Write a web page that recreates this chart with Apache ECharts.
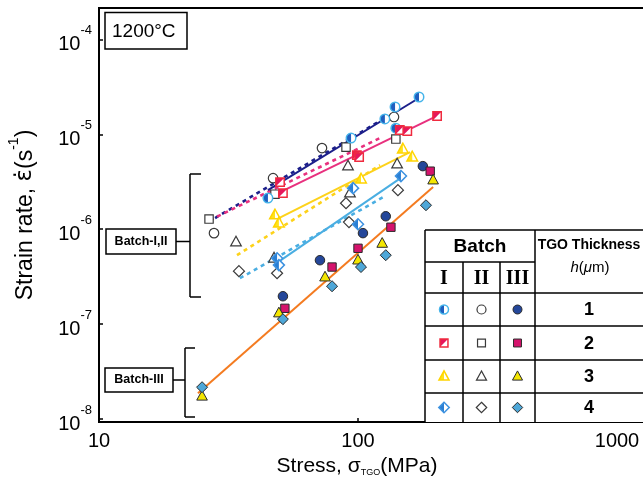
<!DOCTYPE html>
<html>
<head>
<meta charset="utf-8">
<script src="https://cdn.jsdelivr.net/npm/echarts@6/dist/echarts.min.js"></script>
<style>
  html, body { margin: 0; padding: 0; background: #fff; }
  #chart { width: 643px; height: 477px; }
</style>
</head>
<body>
<div id="chart"></div>
<script>
// Creep data at 1200 °C: [TGO stress (MPa), strain rate (1/s)]
// Batch I (half-filled symbols)
const batch1Circle   = [[44.9, 2.13e-6], [94.0, 9.12e-6], [127, 1.45e-5], [139, 1.94e-5], [140, 1.16e-5], [172, 2.47e-5]];
const batch1Square   = [[50.0, 3.13e-6], [51.3, 2.40e-6], [99, 6.04e-6], [101, 5.75e-6], [145, 1.11e-5], [155, 1.08e-5], [202, 1.56e-5]];
const batch1Triangle = [[47.8, 1.41e-6], [49.5, 1.16e-6], [102.7, 3.37e-6], [149, 6.98e-6], [162, 5.75e-6]];
const batch1Diamond  = [[48.7, 4.95e-7], [49.5, 4.19e-7], [95.7, 2.71e-6], [100, 1.13e-6], [146.5, 3.63e-6]];
// Batch II (open symbols)
const batch2Circle   = [[27.8, 9.1e-7], [47.0, 3.45e-6], [72.6, 7.16e-6], [137.7, 1.52e-5]];
const batch2Square   = [[26.6, 1.28e-6], [47.8, 2.34e-6], [89.9, 7.33e-6], [140, 8.9e-6]];
const batch2Triangle = [[33.8, 7.31e-7], [47.4, 4.95e-7], [91.5, 4.62e-6], [93.1, 2.40e-6], [141.6, 4.85e-6]];
const batch2Diamond  = [[34.7, 3.62e-7], [48.7, 3.44e-7], [89.9, 1.88e-6], [92.3, 1.19e-6], [142.6, 2.58e-6]];
// Batch III (solid symbols)
const batch3Circle   = [[51.3, 1.97e-7], [71.3, 4.72e-7], [104.5, 9.1e-7], [128, 1.37e-6], [178, 4.62e-6]];
const batch3Square   = [[52.2, 1.47e-7], [79.4, 4.0e-7], [100, 6.3e-7], [134, 1.05e-6], [190, 4.09e-6]];
const batch3Triangle = [[25, 1.74e-8], [49.5, 1.31e-7], [74.6, 3.13e-7], [100, 4.72e-7], [124, 7.08e-7], [195, 3.29e-6]];
const batch3Diamond  = [[25, 2.17e-8], [51.3, 1.13e-7], [79.4, 2.51e-7], [102.7, 4.0e-7], [128, 5.33e-7], [183, 1.79e-6]];

// Power-law fit lines (end points), solid = batch I, dotted = batch II
const fitH1Solid  = [[44.9, 2.58e-6], [172, 2.41e-5]];
const fitH1Dotted = [[26.4, 1.19e-6], [127, 1.48e-5]];
const fitH2Solid  = [[45.7, 2.18e-6], [202, 1.56e-5]];
const fitH2Dotted = [[26.8, 1.25e-6], [121.6, 9.12e-6]];
const fitH3Solid  = [[49.5, 1.31e-6], [158.8, 6.49e-6]];
const fitH3Dotted = [[34.1, 5.33e-7], [121.6, 4.73e-6]];
const fitH4Solid  = [[49.1, 4.50e-7], [147.9, 3.54e-6]];
const fitH4Dotted = [[35.0, 3.05e-7], [127, 2.23e-6]];
const fitBatch3   = [[24.1, 1.87e-8], [195, 2.78e-6]];

// Axis tick labels
const xTickLabels = ['10', '100', '1000'];
const yTickExponents = [-8, -7, -6, -5, -4];
// Table labels
const batchNames = ['I', 'II', 'III'];
const thicknessLabels = ['1', '2', '3', '4'];

const FONT = 'Arial, "Liberation Sans", sans-serif';
const SERIF = '"Times New Roman", "Liberation Serif", serif';

const lineColors = { h1: '#1c1f8a', h2: '#e8307e', h3: '#fdd21a', h4: '#4aaee2', b3: '#f47b20' };

const symbolStyle = {
  1: {
    circle:   { fill: '#1f5fbf', stroke: '#45b4ea' },
    square:   { fill: '#e6175c', stroke: '#ef2a3e' },
    triangle: { fill: '#ffe31a', stroke: '#ffd400' },
    diamond:  { fill: '#2a7fd4', stroke: '#3d92e0' }
  },
  3: {
    circle:   { fill: '#24479a' },
    square:   { fill: '#d5136c' },
    triangle: { fill: '#f4e600' },
    diamond:  { fill: '#4ea7d8' }
  }
};

function outlineShape(kind, cx, cy, s) {
  if (kind === 'circle') return { type: 'circle', shape: { cx: cx, cy: cy, r: s / 2 } };
  if (kind === 'square') {
    const a = s * 0.88;
    return { type: 'rect', shape: { x: cx - a / 2, y: cy - a / 2, width: a, height: a } };
  }
  if (kind === 'triangle') {
    return { type: 'polygon', shape: { points: [[cx, cy - 0.62 * s], [cx - 0.56 * s, cy + 0.4 * s], [cx + 0.56 * s, cy + 0.4 * s]] } };
  }
  const d = s * 0.58;
  return { type: 'polygon', shape: { points: [[cx, cy - d], [cx + d, cy], [cx, cy + d], [cx - d, cy]] } };
}

function halfShape(kind, cx, cy, s) {
  if (kind === 'circle') {
    return { type: 'sector', shape: { cx: cx, cy: cy, r0: 0, r: s / 2, startAngle: Math.PI / 2, endAngle: Math.PI * 1.5 } };
  }
  if (kind === 'square') {
    const a = s * 0.88;
    return { type: 'polygon', shape: { points: [[cx - a / 2, cy - a / 2], [cx + a / 2, cy - a / 2], [cx - a / 2, cy + a / 2]] } };
  }
  if (kind === 'triangle') {
    return { type: 'polygon', shape: { points: [[cx, cy - 0.62 * s], [cx - 0.56 * s, cy + 0.4 * s], [cx, cy + 0.4 * s]] } };
  }
  const d = s * 0.58;
  return { type: 'polygon', shape: { points: [[cx, cy - d], [cx - d, cy], [cx, cy + d]] } };
}

// Marker glyph for a given shape and batch, centred at (cx, cy)
function glyph(kind, batch, cx, cy, s) {
  const els = [];
  if (batch === 1) {
    const st = symbolStyle[1][kind];
    const bg = outlineShape(kind, cx, cy, s);
    bg.style = { fill: '#fff' };
    const half = halfShape(kind, cx, cy, s);
    half.style = { fill: st.fill };
    const rim = outlineShape(kind, cx, cy, s);
    rim.style = { fill: 'none', stroke: st.stroke, lineWidth: 1.5 };
    els.push(bg, half, rim);
  } else if (batch === 2) {
    const o = outlineShape(kind, cx, cy, s);
    o.style = { fill: '#fff', stroke: '#3a3a3a', lineWidth: 1.2 };
    els.push(o);
  } else {
    const o = outlineShape(kind, cx, cy, s);
    o.style = { fill: symbolStyle[3][kind].fill, stroke: '#2a2a2a', lineWidth: 1 };
    els.push(o);
  }
  return els;
}

const SYM = 9.5;

function markerSeries(data, kind, batch) {
  return {
    type: 'custom',
    z: 5,
    data: data,
    renderItem: function (params, api) {
      const p = api.coord([api.value(0), api.value(1)]);
      return { type: 'group', children: glyph(kind, batch, p[0], p[1], SYM) };
    }
  };
}

function fitSeries(data, color, dotted) {
  return {
    type: 'line',
    z: 3,
    data: data,
    symbol: 'none',
    silent: true,
    lineStyle: dotted
      ? { color: color, width: 2.6, type: [4, 4], cap: 'butt' }
      : { color: color, width: 2 }
  };
}

// ---------- annotation and table graphics ----------
const graphics = [];
function line(x1, y1, x2, y2, w) {
  graphics.push({ type: 'line', z: 50, shape: { x1: x1, y1: y1, x2: x2, y2: y2 }, style: { stroke: '#000', lineWidth: w || 1.5 } });
}
function text(x, y, str, font, align, extra) {
  graphics.push({
    type: 'text', z: 52, x: x, y: y,
    style: Object.assign({ text: str, font: font, fill: '#000', align: align || 'center', verticalAlign: 'middle' }, extra || {})
  });
}

// temperature box
graphics.push({ type: 'rect', z: 50, shape: { x: 105, y: 12.5, width: 82, height: 36.5 }, style: { fill: '#fff', stroke: '#000', lineWidth: 1.5 } });
text(112, 32, '1200°C', '19px ' + FONT, 'left');

// batch brackets
graphics.push({ type: 'rect', z: 50, shape: { x: 106, y: 229, width: 70, height: 25 }, style: { fill: '#fff', stroke: '#000', lineWidth: 1.5 } });
text(141, 241.5, 'Batch-I,II', 'bold 12.5px ' + FONT);
line(176, 241.5, 190, 241.5);
line(190, 174, 190, 297);
line(190, 174, 201, 174);
line(190, 297, 201, 297);

graphics.push({ type: 'rect', z: 50, shape: { x: 105, y: 368, width: 68, height: 24 }, style: { fill: '#fff', stroke: '#000', lineWidth: 1.5 } });
text(139, 380, 'Batch-III', 'bold 12.5px ' + FONT);
line(173, 380, 185, 380);
line(185, 348, 185, 417);
line(185, 348, 195, 348);
line(185, 417, 195, 417);

// legend table
const T = { left: 425, top: 230, sub: 262, head: 293, rows: [293, 326, 360, 393, 422], cols: [425, 463, 500, 535], right: 650 };
graphics.push({ type: 'rect', z: 49, shape: { x: T.left, y: T.top, width: T.right - T.left, height: 422 - T.top }, style: { fill: '#fff' } });
line(T.left, T.top, T.right, T.top);
line(T.left, T.sub, T.cols[3], T.sub);
for (let i = 0; i < 4; i++) line(T.left, T.rows[i], T.right, T.rows[i]);
line(T.cols[0], T.top, T.cols[0], 422);
line(T.cols[1], T.sub, T.cols[1], 422);
line(T.cols[2], T.sub, T.cols[2], 422);
line(T.cols[3], T.top, T.cols[3], 422);

text((T.cols[0] + T.cols[3]) / 2, (T.top + T.sub) / 2 + 1, 'Batch', 'bold 19px ' + FONT);
batchNames.forEach(function (n, i) {
  text((T.cols[i] + (T.cols[i + 1] || T.cols[3])) / 2, (T.sub + T.head) / 2 + 1, n, 'bold 20px ' + SERIF);
});
text(589, 245, 'TGO Thickness', 'bold 14px ' + FONT);
graphics.push({
  type: 'text', z: 52, x: 590, y: 268,
  style: {
    text: '{i|h}{n|(}{i|μ}{n|m)}', align: 'center', verticalAlign: 'middle', fill: '#000',
    rich: { i: { font: 'italic 15px ' + FONT, fill: '#000' }, n: { font: '15px ' + FONT, fill: '#000' } }
  }
});
const kinds = ['circle', 'square', 'triangle', 'diamond'];
thicknessLabels.forEach(function (lab, r) {
  const cy = (T.rows[r] + T.rows[r + 1]) / 2;
  text(589, cy + 1, lab, 'bold 18px ' + FONT);
  [1, 2, 3].forEach(function (b, c) {
    const cx = (T.cols[c] + T.cols[c + 1]) / 2;
    glyph(kinds[r], b, cx, cy, 9).forEach(function (el, k) {
      el.z = 53;
      el.z2 = k;
      graphics.push(el);
    });
  });
});

// ---------- axes ----------
const yMin = Math.pow(10, -8.03);
const yMax = Math.pow(10, -3.67);
const xMin = 10;
const xMax = Math.pow(10, 3.139);

function isDecade(v) {
  const e = Math.log10(v);
  return Math.abs(e - Math.round(e)) < 1e-6 ? Math.round(e) : null;
}

const option = {
  animation: false,
  backgroundColor: '#fff',
  grid: {
    left: 99, right: -10, top: 8, bottom: 55,
    show: true, borderColor: '#000', borderWidth: 2,
    containLabel: false, outerBoundsMode: 'none'
  },
  xAxis: {
    type: 'log', logBase: 10, min: xMin, max: xMax,
    axisLine: { lineStyle: { color: '#000', width: 2 } },
    axisTick: { inside: true, length: 4, lineStyle: { color: '#000', width: 1.5 } },
    minorTick: { show: false },
    splitLine: { show: false },
    axisLabel: {
      color: '#000', fontSize: 20, fontFamily: FONT, margin: 9,
      formatter: function (v) {
        const e = isDecade(v);
        if (e === null) return '';
        return xTickLabels[e - 1] || '';
      }
    },
    name: '{t|Stress, σ}{sub|TGO}{t|(MPa)}',
    nameLocation: 'middle',
    nameGap: 30,
    nameTextStyle: {
      padding: [0, 38, 0, 0],
      rich: {
        t: { fontSize: 21, fontFamily: FONT, color: '#000' },
        sub: { fontSize: 9, fontFamily: FONT, color: '#000', verticalAlign: 'bottom', lineHeight: 16 }
      }
    }
  },
  yAxis: {
    type: 'log', logBase: 10, min: yMin, max: yMax,
    axisLine: { lineStyle: { color: '#000', width: 2 } },
    axisTick: { inside: true, length: 4, lineStyle: { color: '#000', width: 1.5 } },
    minorTick: { show: false },
    splitLine: { show: false },
    axisLabel: {
      margin: 7, fontSize: 20, color: '#000',
      formatter: function (v) {
        const e = isDecade(v);
        if (e === null || yTickExponents.indexOf(e) < 0) return '';
        return '{b|10}{s|' + e + '}';
      },
      rich: {
        b: { fontSize: 20, fontFamily: FONT, color: '#000', lineHeight: 30, verticalAlign: 'bottom' },
        s: { fontSize: 13, fontFamily: FONT, color: '#000', lineHeight: 14, verticalAlign: 'top' }
      }
    },
    name: '{t|Strain rate, }{e|\u03B5\u0307}{t|(s}{s|-1}{t|)}',
    nameLocation: 'middle',
    nameGap: 62,
    nameTextStyle: {
      rich: {
        t: { fontSize: 23, fontFamily: FONT, color: '#000', lineHeight: 30, verticalAlign: 'bottom' },
        e: { fontSize: 23, fontFamily: '"DejaVu Sans"', color: '#000', lineHeight: 30, verticalAlign: 'bottom' },
        s: { fontSize: 14, fontFamily: FONT, color: '#000', lineHeight: 14, verticalAlign: 'top' }
      }
    }
  },
  graphic: graphics,
  series: [
    fitSeries(fitH1Dotted, lineColors.h1, true),
    fitSeries(fitH2Dotted, lineColors.h2, true),
    fitSeries(fitH3Dotted, lineColors.h3, true),
    fitSeries(fitH4Dotted, lineColors.h4, true),
    fitSeries(fitH1Solid, lineColors.h1, false),
    fitSeries(fitH2Solid, lineColors.h2, false),
    fitSeries(fitH3Solid, lineColors.h3, false),
    fitSeries(fitH4Solid, lineColors.h4, false),
    fitSeries(fitBatch3, lineColors.b3, false),
    markerSeries(batch2Circle, 'circle', 2),
    markerSeries(batch2Square, 'square', 2),
    markerSeries(batch2Triangle, 'triangle', 2),
    markerSeries(batch2Diamond, 'diamond', 2),
    markerSeries(batch1Circle, 'circle', 1),
    markerSeries(batch1Square, 'square', 1),
    markerSeries(batch1Triangle, 'triangle', 1),
    markerSeries(batch1Diamond, 'diamond', 1),
    markerSeries(batch3Circle, 'circle', 3),
    markerSeries(batch3Square, 'square', 3),
    markerSeries(batch3Triangle, 'triangle', 3),
    markerSeries(batch3Diamond, 'diamond', 3)
  ]
};

const chart = echarts.init(document.getElementById('chart'), null, { renderer: 'canvas' });
chart.setOption(option);
</script>
</body>
</html>
